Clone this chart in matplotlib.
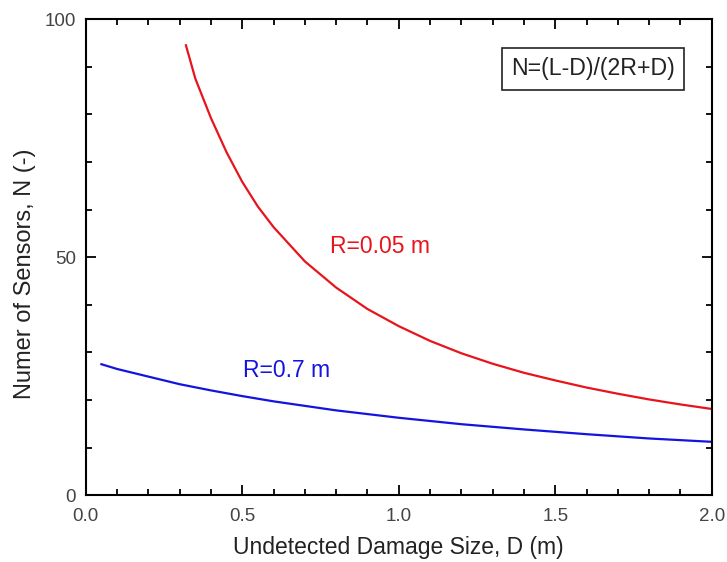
import matplotlib
matplotlib.use("Agg")
import matplotlib.pyplot as plt
from matplotlib.ticker import MultipleLocator, FormatStrFormatter

plt.rcParams['font.family'] = ['Liberation Sans', 'DejaVu Sans']

# Red curve (R=0.05 m)
red_D = [0.32, 0.35, 0.4, 0.45, 0.5, 0.55, 0.6, 0.7, 0.8, 0.9, 1.0, 1.1, 1.2, 1.3,
         1.4, 1.5, 1.6, 1.7, 1.8, 1.9, 2.0]
red_N = [94.5, 87.5, 79.2, 72.0, 65.8, 60.6, 56.3, 49.1, 43.6, 39.1, 35.5, 32.4, 29.8,
         27.6, 25.7, 24.1, 22.6, 21.3, 20.1, 19.05, 18.1]

# Blue curve (R=0.7 m)
blue_D = [0.05, 0.1, 0.2, 0.3, 0.4, 0.5, 0.6, 0.8, 1.0, 1.2, 1.4, 1.6, 1.8, 2.0]
blue_N = [27.5, 26.5, 24.9, 23.3, 22.0, 20.8, 19.7, 17.8, 16.25, 14.9, 13.8, 12.8, 11.9, 11.2]

fig = plt.figure(figsize=(7.27, 5.62), dpi=100)
ax = fig.add_axes([0.118, 0.119, 0.861, 0.847])

ax.plot(red_D, red_N, color='#e8141c', lw=1.6)
ax.plot(blue_D, blue_N, color='#1414e0', lw=1.6)

ax.set_xlim(0, 2.0)
ax.set_ylim(0, 100)
ax.xaxis.set_major_locator(MultipleLocator(0.5))
ax.xaxis.set_minor_locator(MultipleLocator(0.1))
ax.yaxis.set_major_locator(MultipleLocator(50))
ax.yaxis.set_minor_locator(MultipleLocator(10))
ax.xaxis.set_major_formatter(FormatStrFormatter('%.1f'))
ax.tick_params(which='both', direction='in', top=True, right=True, width=1.3,
               labelsize=13.5, labelcolor='#444444')
ax.tick_params(axis='y', pad=7)
ax.tick_params(axis='x', pad=9)
ax.tick_params(which='major', length=7)
ax.tick_params(which='minor', length=4)
for s in ax.spines.values():
    s.set_linewidth(1.5)

ax.set_xlabel('Undetected Damage Size, D (m)', fontsize=16.5, color='#222222', labelpad=8.5)
ax.set_ylabel('Numer of Sensors, N (-)', fontsize=17, color='#222222')
ax.yaxis.set_label_coords(-0.079, 0.466)

ax.text(0.780, 50.8, 'R=0.05 m', color='#e8141c', fontsize=16.5, ha='left', va='baseline')
ax.text(0.502, 24.8, 'R=0.7 m', color='#1414e0', fontsize=16.5, ha='left', va='baseline')
ax.text(1.62, 88.2, 'N=(L-D)/(2R+D)', color='#222222', fontsize=16.7, ha='center', va='baseline',
        bbox=dict(boxstyle='square,pad=0.4', fc='white', ec='#222222', lw=1.2))

fig.savefig('out.png', dpi=100)
